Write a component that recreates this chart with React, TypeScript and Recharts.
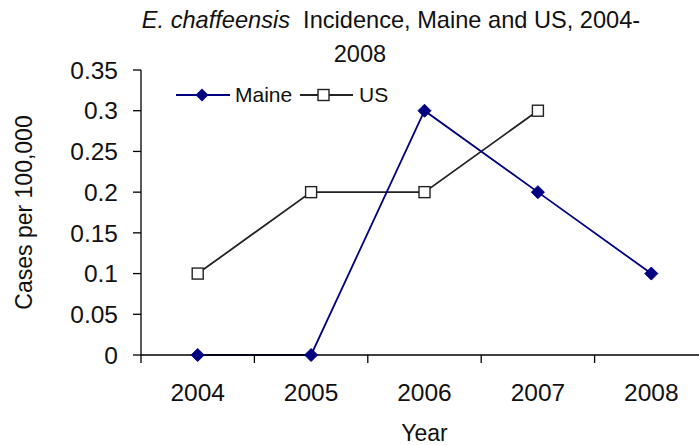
import React from 'react';
import { LineChart, Line, XAxis, YAxis, Label } from 'recharts';

// Years along the x axis
const years = ['2004', '2005', '2006', '2007', '2008'];
// Cases per 100,000
const maineRates = [0, 0, 0.3, 0.2, 0.1];
const usRates: (number | null)[] = [0.1, 0.2, 0.2, 0.3, null];
const yTicks = [0, 0.05, 0.1, 0.15, 0.2, 0.25, 0.3, 0.35];

const chartData = years.map((year, i) => ({ year, maine: maineRates[i], us: usRates[i] }));

const FONT = '"Liberation Sans", Arial, Helvetica, sans-serif';
const MAINE = '#000080';
const US = '#222222';

// filled navy diamond for Maine
const DiamondDot = (props: any) => {
  const { cx, cy, index } = props;
  if (cx == null || cy == null) return null;
  const h = 6.5;
  return (
    <polygon
      key={`d-${index}`}
      points={`${cx},${cy - h} ${cx + h},${cy} ${cx},${cy + h} ${cx - h},${cy}`}
      fill={MAINE}
      stroke={MAINE}
    />
  );
};

// open square for US
const SquareDot = (props: any) => {
  const { cx, cy, index, value } = props;
  if (cx == null || cy == null || value == null) return null;
  const h = 5.5;
  return <rect key={`s-${index}`} x={cx - h} y={cy - h} width={h * 2} height={h * 2} fill="#fff" stroke={US} strokeWidth={1.4} />;
};

// year label centred in the band, tick line on the band's left edge
const YearTick = (props: any) => {
  const { x, y, payload } = props;
  const half = payload && payload.offset ? payload.offset : 56.6;
  return (
    <g>
      <line x1={x - half} x2={x - half} y1={y} y2={y + 8} stroke="#000" strokeWidth={1.3} />
      <text x={x} y={y + 37} textAnchor="middle" dominantBaseline="central" fontSize={24.5} fontFamily={FONT} fill="#111">
        {payload.value}
      </text>
    </g>
  );
};

const YTitle = (props: any) => {
  const vb = props.viewBox || { y: 70, height: 285 };
  const cy = vb.y + vb.height / 2;
  return (
    <text x={24} y={cy} transform={`rotate(-90, 24, ${cy})`} textAnchor="middle" dominantBaseline="central" fontSize={23} fontFamily={FONT} fill="#111">
      Cases per 100,000
    </text>
  );
};

export default function App() {
  return (
    <div style={{ position: 'fixed', left: 0, top: 0, width: 699, height: 445, overflow: 'hidden', background: '#fff', fontFamily: FONT }}>
      <LineChart width={708} height={445} data={chartData} margin={{ top: 70, right: 0, bottom: 0, left: 0 }}>
        <XAxis
          dataKey="year"
          scale="band"
          height={90}
          stroke="#000"
          strokeWidth={1.3}
          tickLine={false}
          tickSize={0}
          tickMargin={0}
          tick={<YearTick />}
          interval={0}
        >
          <Label value="Year" position="insideBottom" offset={4} style={{ fontSize: 23, fontFamily: FONT, fill: '#111' }} />
        </XAxis>
        <YAxis
          width={141}
          domain={[0, 0.35]}
          ticks={yTicks}
          interval={0}
          stroke="#000"
          strokeWidth={1.3}
          tickSize={8}
          tickMargin={15}
          tick={{ fontSize: 24.5, fontFamily: FONT, fill: '#111' }}
        >
          <Label content={<YTitle />} />
        </YAxis>
        <Line type="linear" dataKey="us" stroke={US} strokeWidth={1.8} dot={<SquareDot />} activeDot={false} isAnimationActive={false} />
        <Line type="linear" dataKey="maine" stroke={MAINE} strokeWidth={1.8} dot={<DiamondDot />} activeDot={false} isAnimationActive={false} />
      </LineChart>

      {/* title and legend drawn over the chart */}
      <svg width={699} height={445} style={{ position: 'absolute', left: 0, top: 0, pointerEvents: 'none' }}>
        <text x={391} y={28} textAnchor="middle" fontSize={23.6} fontFamily={FONT} fill="#111">
          <tspan fontStyle="italic">E. chaffeensis</tspan>
          <tspan>{'\u00a0 Incidence, Maine and US, 2004-'}</tspan>
        </text>
        <text x={360} y={62} textAnchor="middle" fontSize={23.6} fontFamily={FONT} fill="#111">2008</text>

        <g fontFamily={FONT} fontSize={21} fill="#111">
          <line x1={176} x2={230} y1={95} y2={95} stroke={MAINE} strokeWidth={1.8} />
          <polygon points="202,88.5 208.5,95 202,101.5 195.5,95" fill={MAINE} />
          <text x={235} y={102}>Maine</text>
          <line x1={300} x2={353} y1={95} y2={95} stroke={US} strokeWidth={1.8} />
          <rect x={318} y={89.5} width={11} height={11} fill="#fff" stroke={US} strokeWidth={1.4} />
          <text x={359} y={102}>US</text>
        </g>
      </svg>
    </div>
  );
}
